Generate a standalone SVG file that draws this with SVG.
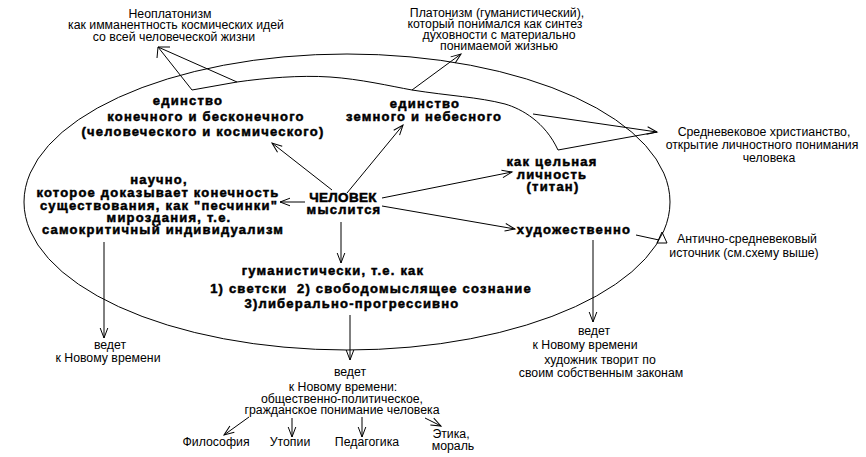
<svg xmlns="http://www.w3.org/2000/svg" width="866" height="457" viewBox="0 0 866 457">
<style>
.r{font-family:"Liberation Sans",Arial,sans-serif;font-size:12.3px;fill:#000;text-anchor:middle}
.b{font-family:"Liberation Sans",Arial,sans-serif;font-size:13px;font-weight:bold;fill:#000;stroke:#000;stroke-width:0.5;letter-spacing:1.2px;text-anchor:middle}
.ln{fill:none;stroke:#000;stroke-width:1}
.ar{fill:none;stroke:#000;stroke-width:1;marker-end:url(#v)}
</style>
<defs>
<marker id="v" markerUnits="userSpaceOnUse" markerWidth="14" markerHeight="12" viewBox="-12 -6 14 12" refX="0" refY="0" orient="auto" overflow="visible">
<path d="M-10,-3.8 L0,0 L-10,3.8" fill="none" stroke="#000" stroke-width="1"/>
</marker>
</defs>
<rect width="866" height="457" fill="#fff"/>
<g id="connectors">
<ellipse class="ln" cx="347" cy="202" rx="323" ry="148"/>
<path class="ln" d="M192,90 L237,82 C265,78 300,75 330,77 C360,79 390,86 412,90 C450,96 478,97 505,104 C522,109 545,122 558,150"/>
<line class="ln" x1="192" y1="90" x2="158" y2="47"/>
<line class="ln" x1="237" y1="82" x2="158" y2="47"/>
<path class="ln" d="M170,47 L158,47 L157,58"/>
<line class="ar" x1="412" y1="90" x2="461" y2="54"/>
<line class="ar" x1="533" y1="114" x2="657" y2="132"/>
<line class="ln" x1="558" y1="150" x2="657" y2="132"/>
<line class="ar" x1="332" y1="190" x2="272" y2="143"/>
<line class="ar" x1="347" y1="193" x2="403" y2="125"/>
<line class="ar" x1="305" y1="202" x2="280" y2="202"/>
<line class="ar" x1="382" y1="198" x2="512" y2="172"/>
<line class="ar" x1="382" y1="206" x2="515" y2="229"/>
<line class="ar" x1="341" y1="222" x2="341" y2="263"/>
<line class="ln" x1="636" y1="235" x2="659" y2="240"/>
<polygon class="ln" points="657,243 662,232 667,243"/>
<line class="ar" x1="104" y1="242" x2="104" y2="338"/>
<line class="ar" x1="593" y1="240" x2="593" y2="322"/>
<line class="ar" x1="350" y1="315" x2="350" y2="360"/>
<line class="ar" x1="249" y1="417" x2="224" y2="435"/>
<line class="ar" x1="292" y1="418" x2="292" y2="437"/>
<line class="ar" x1="362" y1="417" x2="362" y2="437"/>
<line class="ar" x1="425" y1="418" x2="441" y2="426"/>
</g>
<g id="neoplatonism">
<text class="r" x="170" y="18">Неоплатонизм</text>
<text class="r" x="176" y="29">как имманентность космических идей</text>
<text class="r" x="174" y="41">со всей человеческой жизни</text>
</g>
<g id="platonism">
<text class="r" x="497" y="17">Платонизм (гуманистический),</text>
<text class="r" x="495" y="28">который понимался как синтез</text>
<text class="r" x="499" y="39">духовности с материально</text>
<text class="r" x="499" y="50">понимаемой жизнью</text>
</g>
<g id="medieval">
<text class="r" x="764" y="136">Средневековое христианство,</text>
<text class="r" x="762" y="149">открытие личностного понимания</text>
<text class="r" x="769" y="162">человека</text>
</g>
<g id="antique">
<text class="r" x="747" y="243">Антично-средневековый</text>
<text class="r" x="744" y="257">источник (см.схему выше)</text>
</g>
<g id="unity-finite">
<text class="b" x="188" y="105">единство</text>
<text class="b" x="206" y="121">конечного и бесконечного</text>
<text class="b" x="203" y="136">(человеческого и космического)</text>
</g>
<g id="unity-earth">
<text class="b" x="425" y="108">единство</text>
<text class="b" x="424" y="121">земного и небесного</text>
</g>
<g id="titan">
<text class="b" x="552" y="166">как цельная</text>
<text class="b" x="552" y="179">личность</text>
<text class="b" x="553" y="191">(титан)</text>
</g>
<g id="scientific">
<text class="b" x="159" y="184">научно,</text>
<text class="b" x="158" y="197">которое доказывает конечность</text>
<text class="b" x="159" y="210">существования, как "песчинки"</text>
<text class="b" x="169" y="222">мироздания, т.е.</text>
<text class="b" x="163" y="234">самокритичный индивидуализм</text>
</g>
<g id="human">
<text class="b" x="343" y="202" style="font-size:13.5px;letter-spacing:0.3px">ЧЕЛОВЕК</text>
<text class="b" x="344" y="214">мыслится</text>
</g>
<g id="artistic">
<text class="b" x="574" y="234">художественно</text>
</g>
<g id="humanistic">
<text class="b" x="333" y="275">гуманистически, т.е. как</text>
<text class="b" x="371" y="293" xml:space="preserve">1) светски  2) свободомыслящее сознание</text>
<text class="b" x="352" y="308">3)либерально-прогрессивно</text>
</g>
<g id="leads-left">
<text class="r" x="110" y="349">ведет</text>
<text class="r" x="108" y="362">к Новому времени</text>
</g>
<g id="leads-right">
<text class="r" x="594" y="335">ведет</text>
<text class="r" x="585" y="349">к Новому времени</text>
<text class="r" x="600" y="364">художник творит по</text>
<text class="r" x="601" y="377">своим собственным законам</text>
</g>
<g id="leads-center">
<text class="r" x="350" y="376">ведет</text>
<text class="r" x="343" y="391">к Новому времени:</text>
<text class="r" x="342" y="403">общественно-политическое,</text>
<text class="r" x="342" y="414">гражданское понимание человека</text>
</g>
<g id="philosophy"><text class="r" x="216" y="446">Философия</text></g>
<g id="utopias"><text class="r" x="290" y="446">Утопии</text></g>
<g id="pedagogy"><text class="r" x="367" y="446">Педагогика</text></g>
<g id="ethics">
<text class="r" x="451" y="438">Этика,</text>
<text class="r" x="453" y="450">мораль</text>
</g>
</svg>
